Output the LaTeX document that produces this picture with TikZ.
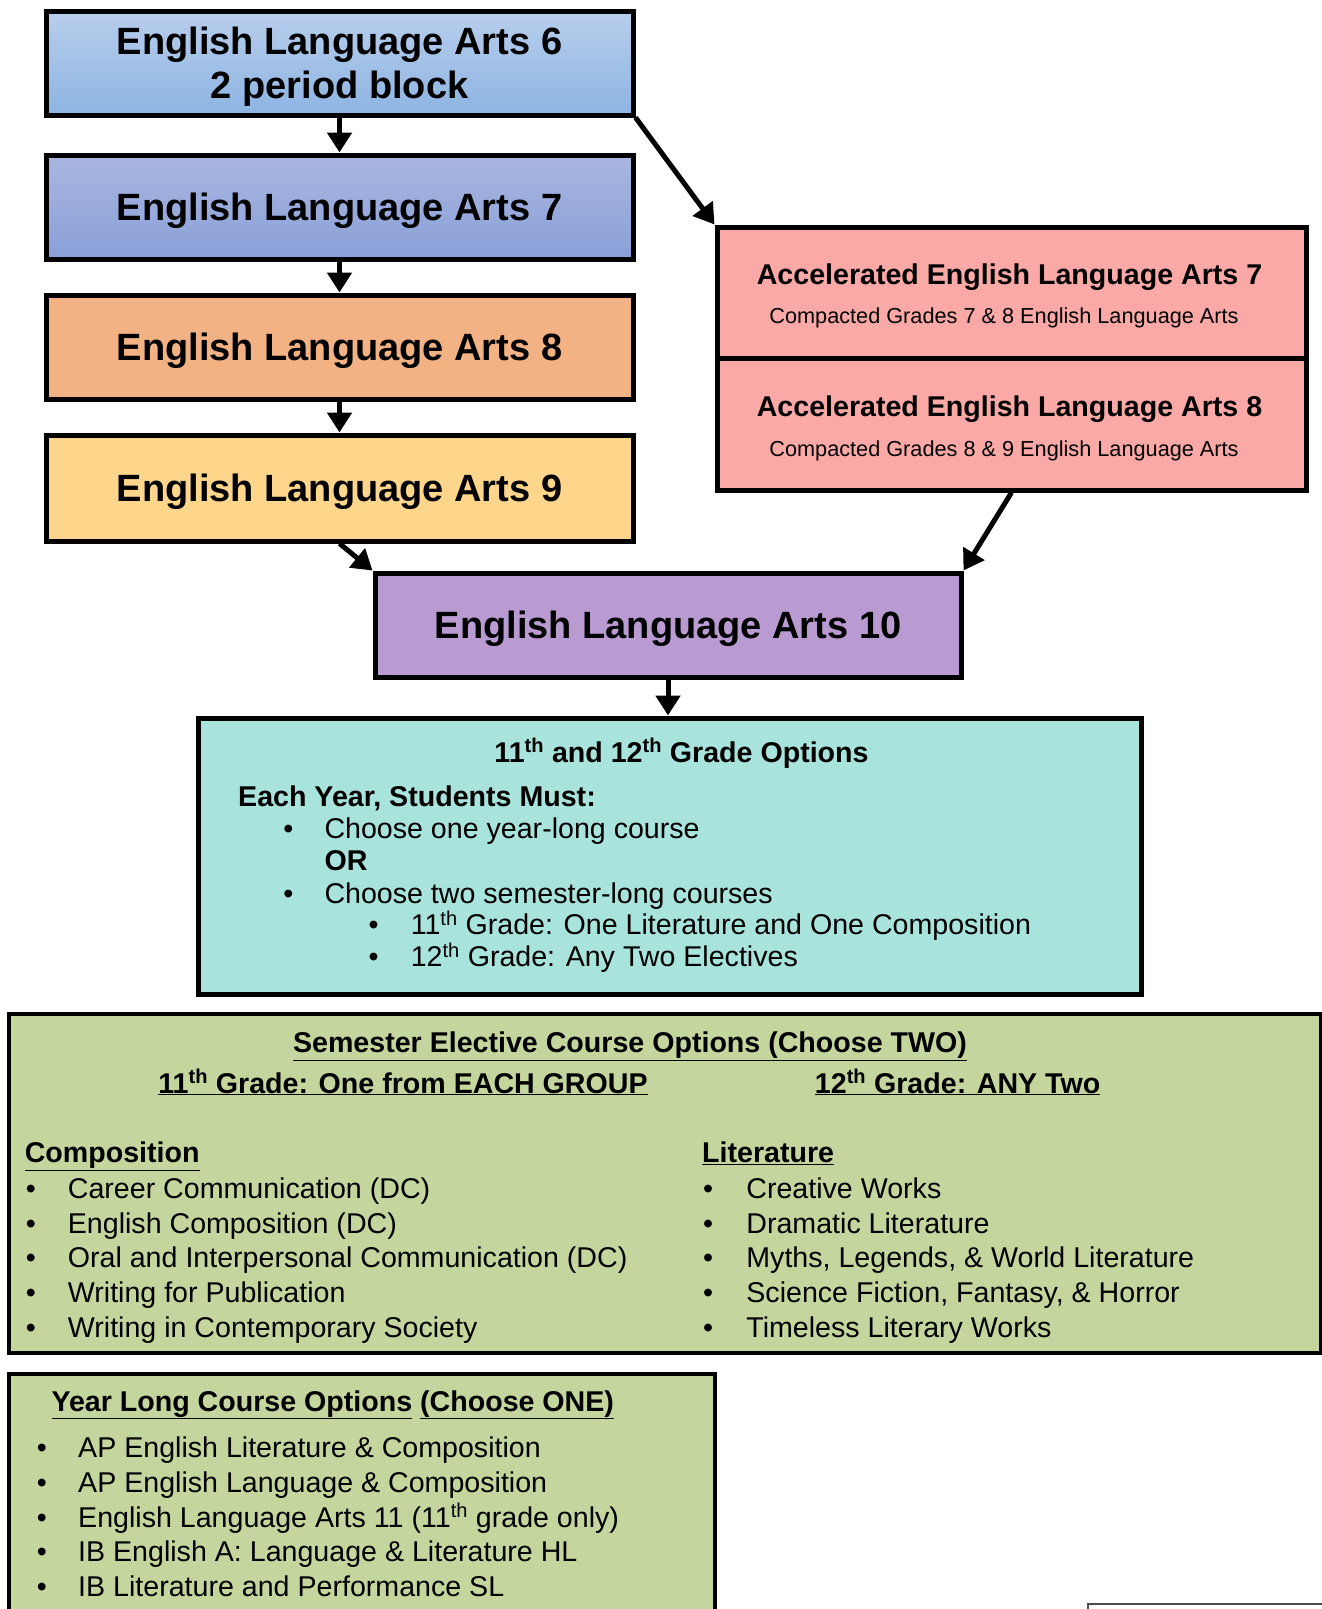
\documentclass[tikz,border=0pt]{standalone}
\usepackage{fontspec}
\setmainfont{Liberation Sans}
\usetikzlibrary{arrows.meta}

\definecolor{elasixtop}{RGB}{184,206,236}
\definecolor{elasixbot}{RGB}{141,180,226}
\definecolor{elasevtop}{RGB}{170,182,224}
\definecolor{elasevbot}{RGB}{137,160,216}
\definecolor{elaeight}{RGB}{242,178,132}
\definecolor{elanine}{RGB}{254,214,139}
\definecolor{accpink}{RGB}{251,169,166}
\definecolor{elaten}{RGB}{185,155,210}
\definecolor{optteal}{RGB}{168,227,220}
\definecolor{electgreen}{RGB}{196,214,158}

\newcommand{\bigtxt}{\fontsize{38}{44}\selectfont\bfseries}
\newcommand{\midtxt}{\fontsize{28.6}{33}\selectfont}
\newcommand{\subtxt}{\fontsize{21.7}{26}\selectfont}

\begin{document}
\begin{tikzpicture}[x=1pt,y=1pt,yscale=-1,
  gradebox/.style={draw, line width=5pt, minimum width=587pt, minimum height=104pt, inner sep=0pt, align=center, text depth=0pt, font=\bigtxt},
  accbox/.style={draw, fill=accpink, line width=5pt, minimum width=589pt, minimum height=131pt, inner sep=0pt},
  infobox/.style={draw, line width=4pt, inner sep=0pt},
  flow/.style={line width=5pt, -{Triangle[width=24pt,length=20pt]}},
  txtline/.style={anchor=base west, inner sep=0pt, font=\midtxt},
  dot/.style={anchor=base, inner sep=0pt, font=\midtxt}]
\useasboundingbox (0,0) rectangle (1322,1609);

% grade boxes, left column
\node[gradebox, top color=elasixtop, bottom color=elasixbot] (ela6) at (339.5,63) {English Language Arts 6\\2 period block};
\node[gradebox, top color=elasevtop, bottom color=elasevbot] (ela7) at (339.5,207) {English Language Arts 7};
\node[gradebox, fill=elaeight] (ela8) at (339.5,347) {English Language Arts 8};
\node[gradebox, fill=elanine, minimum height=106pt] (ela9) at (339.5,488) {English Language Arts 9};

% accelerated track
\node[accbox] (acc7) at (1011.5,292.5) {};
\node[accbox, minimum height=132pt] (acc8) at (1011.5,424) {};
\node[anchor=base, inner sep=0pt, font={\midtxt\bfseries}] (acc7t) at (1009.5,284) {Accelerated English Language Arts 7};
\node[anchor=base, inner sep=0pt, font=\subtxt] (acc7s) at (1004,323) {Compacted Grades 7 \& 8 English Language Arts};
\node[anchor=base, inner sep=0pt, font={\midtxt\bfseries}] (acc8t) at (1009.5,416) {Accelerated English Language Arts 8};
\node[anchor=base, inner sep=0pt, font=\subtxt] (acc8s) at (1004,456) {Compacted Grades 8 \& 9 English Language Arts};

\node[gradebox, fill=elaten, minimum width=586pt] (ela10) at (668,625) {English Language Arts 10};

% 11th and 12th grade options
\node[infobox, fill=optteal, line width=5pt, minimum width=943pt, minimum height=276pt] (opts) at (669.5,856) {};
\node[anchor=base, inner sep=0pt, font={\midtxt\bfseries}] (optttl) at (681.5,762) {11\textsuperscript{th} and 12\textsuperscript{th} Grade Options};
\node[txtline, font={\midtxt\bfseries}] (must) at (238,806.5) {Each Year, Students Must:};
\node[dot] (obul1) at (288.4,838.3) {•};
\node[txtline] (opt1) at (324.3,838.3) {Choose one year-long course};
\node[txtline, font={\midtxt\bfseries}] (orword) at (324.3,870) {OR};
\node[dot] (obul2) at (288.4,903) {•};
\node[txtline] (opt2) at (324.3,903) {Choose two semester-long courses};
\node[dot] (sbul1) at (373.6,934.8) {•};
\node[txtline] (sub1) at (410.6,934.8) {11\textsuperscript{th} Grade: One Literature and One Composition};
\node[dot] (sbul2) at (373.6,966.6) {•};
\node[txtline] (sub2) at (410.6,966.6) {12\textsuperscript{th} Grade: Any Two Electives};

% semester electives
\node[infobox, fill=electgreen, minimum width=1312pt, minimum height=339pt] (sem) at (665,1183.5) {};
\node[anchor=base, inner sep=0pt, font={\midtxt\bfseries}] (semttl) at (630,1052.8) {\underline{Semester Elective Course Options (Choose TWO)}};
\node[anchor=base, inner sep=0pt, font={\midtxt\bfseries}] (gr11) at (403,1093) {\underline{11\textsuperscript{th} Grade: One from EACH GROUP}};
\node[anchor=base, inner sep=0pt, font={\midtxt\bfseries}] (gr12) at (957.6,1093) {\underline{12\textsuperscript{th} Grade: ANY Two}};
\node[txtline, font={\midtxt\bfseries}] (comphd) at (24.6,1162.6) {\underline{Composition}};
\node[txtline, font={\midtxt\bfseries}] (lithd) at (702,1162.6) {\underline{Literature}};
\foreach \crs [count=\i] in {Career Communication (DC), English Composition (DC), Oral and Interpersonal Communication (DC), Writing for Publication, Writing in Contemporary Society}{
  \node[dot] (cbul\i) at (31,{1198.6+34.6*(\i-1)}) {•};
  \node[txtline] (comp\i) at (67.7,{1198.6+34.6*(\i-1)}) {\crs};
}
\foreach \crs [count=\i] in {Creative Works, Dramatic Literature, {Myths, Legends, \& World Literature}, {Science Fiction, Fantasy, \& Horror}, Timeless Literary Works}{
  \node[dot] (lbul\i) at (708.2,{1198.6+34.6*(\i-1)}) {•};
  \node[txtline] (lit\i) at (746.2,{1198.6+34.6*(\i-1)}) {\crs};
}

% year long courses
\node[infobox, fill=electgreen, minimum width=706pt, minimum height=306pt] (year) at (362,1527) {};
\node[txtline, font={\midtxt\bfseries}] (yrttl) at (51.3,1411) {\underline{Year Long Course Options} \underline{(Choose ONE)}};
\foreach \crs [count=\i] in {AP English Literature \& Composition, AP English Language \& Composition, English Language Arts 11 (11\textsuperscript{th} grade only), IB English A: Language \& Literature HL, IB Literature and Performance SL}{
  \node[dot] (ybul\i) at (42,{1457.2+34.9*(\i-1)}) {•};
  \node[txtline] (yr\i) at (78,{1457.2+34.9*(\i-1)}) {\crs};
}

% box cut off at the page corner
\draw[line width=1.5pt, black!70] (1088,1660) -- (1088,1604) -- (1340,1604);

% arrows
\draw[flow] (ela6.south) -- (ela7.north);
\draw[flow] (ela7.south) -- (ela8.north);
\draw[flow] (ela8.south) -- (ela9.north);
\draw[flow] (ela6.south east) -- (acc7.north west);
\draw[flow] (ela9.south) -- (ela10.north west);
\draw[flow] (acc8.south) -- (ela10.north east);
\draw[flow] (ela10.south) -- (ela10.south |- opts.north);
\end{tikzpicture}
\end{document}
